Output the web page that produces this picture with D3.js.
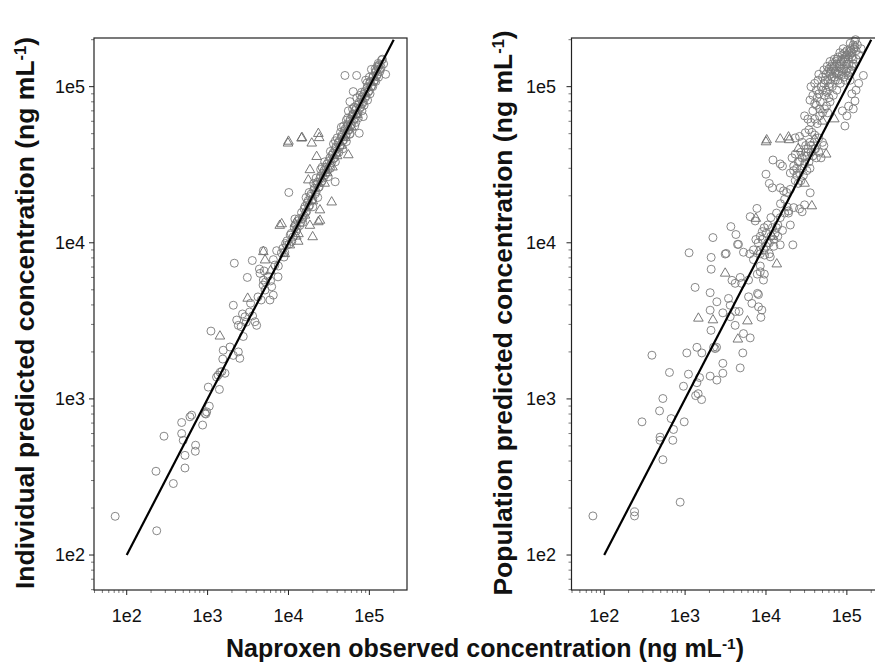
<!DOCTYPE html>
<meta charset="utf-8">
<script src="https://d3js.org/d3.v7.min.js"></script>
<style>
	body{
		margin:0;
		background:#fff;
		font-family:'Liberation Sans', Arial, sans-serif;
	}
</style>
<div id="chart"></div>
<script>

// observed vs predicted (ng/mL)
var indivCircles = [
	[72,177],[235,143],[230,344],[377,287],[525,361],[525,435],[705,462],[710,505],[500,543],[289,577],
	[478,706],[478,600],[635,787],[868,680],[975,826],[950,800],[1050,898],[1020,1190],[1400,1150],[1350,1420],
	[1430,1480],[1500,1500],[1100,2720],[1560,2050],[1540,1800],[1890,2150],[2080,1900],[2400,2000],[2500,1820],[2080,3980],
	[2140,7400],[3100,6000],[3570,7700],[2290,3200],[2400,2960],[2900,3360],[2760,2510],[3850,3120],[4040,2960],[4450,6370],
	[4890,5770],[4850,5360],[5130,4980],[6200,5230],[6490,4620],[5900,4300],[4890,8900],[7140,8900],[9500,9660],[7430,6050],
	[4370,6790],[1290,1380],[1640,1460],[930,807],[605,768],
	[2600,2900],[3000,3100],[3300,3600],[3600,3400],[4200,4500],[4600,4300],[5200,5600],[5600,6100],[6000,5700],[6800,7200],
	[7500,7100],[8200,8600],[8800,8100],[9200,9900],[3400,4100],[2700,3500],[5000,6600],[6500,7800],
	[10500,11200],[11000,10200],[11800,12500],[12500,11900],[13000,13800],[13800,12900],[14500,15600],[15200,14600],[16000,17100],[16800,15900],
	[17500,18600],[18300,17400],[19000,20500],[20000,19000],[21000,22400],[22000,21200],[23000,24500],[24000,22800],[25000,26800],[26000,24900],
	[27500,29000],[28500,27300],[30000,32000],[31000,29500],[32500,35000],[34000,32500],[35500,37500],[37000,35000],[38500,41000],[40000,38000],
	[42000,44500],[44000,42000],[46000,49000],[48000,45500],[50000,53500],[52000,49500],[54000,57500],[56000,53000],[58000,62000],[60000,57000],
	[63000,67000],[66000,62500],[69000,73000],[72000,68000],[75000,79500],[78000,74000],[81000,86000],[84000,80000],[88000,93000],[91000,87000],
	[95000,100000],[99000,94000],[103000,108000],[107000,101000],[112000,117000],[116000,110000],[121000,126000],[126000,120000],[132000,138000],[140000,133000],
	[37800,24600],[10100,21000],[75000,50300],[63200,93000],[49900,118000],[69600,118000],[106000,129000],[129000,141000],[159000,120000],[57500,80200],
	[84000,64300],[62000,66000],[45000,55000],[52000,61000],[70000,85000],[90000,110000],[95000,82000],[110000,100000],[42000,38000],[28000,33000],
	[33000,30000],[36000,43000],[18000,21000],[15000,13500],[12000,14200],[20000,17000],[22000,26000],[26000,30500],[31000,26500],[40000,47000],
	[47000,40000],[54000,63000],[58000,50000],[65000,74000],[73000,63000],[80000,92000],[86000,76000],[100000,115000],[118000,130000],[130000,115000],
	[145000,150000],[150000,140000],[125000,135000],[135000,125000],[55000,70000],[66000,56000],[38000,33000],[48000,56000],
	[8500,9200],[9000,8700],[9600,10300],[10200,9800],[10800,11500],[11400,10900],[12200,13000],[12800,12300],[13500,14300],[14200,13500],
	[14800,14200],[15600,16500],[16300,15600],[17000,18000],[17800,17000],[18600,19800],[19500,18700],[20500,21800],[21500,20600],[22500,23800],
	[23500,22600],[24500,25900],[25500,24400],[26500,28000],[27000,26000],[29000,30500],[29500,28200],[31500,33500],[33000,31500],[34500,36500],
	[36000,34500],[37500,39500],[39000,37200],[41000,43500],[43000,41000],[45000,47500],[47000,45000],[49000,52000],[51000,48500],[53000,56000],
	[55000,52500],[57000,60000],[59000,56500],[61000,64500],[64000,61000],[67000,70500],[70000,66800],[73000,77000],[76000,72500],[79000,83000],
	[82000,78000],[86000,90000],[89000,85000],[93000,97500],[97000,92500],[101000,106000],[105000,100000],[110000,115000],[114000,108000],[118000,123000],
	[123000,117000],[128000,133000],[136000,130000],[142000,148000],[44000,51000],[62000,72000],[77000,88000],[94000,106000],[33000,38500],[25000,29500],
	[57000,49500],[81000,70000],[102000,90000],[120000,108000],[38000,45000],[52000,44500],[68000,59000],[20500,24000],[16500,19500],[23000,19500]
]
var indivTriangles = [
	[10000,44600],[9860,43400],[14500,46700],[14700,47100],[19400,43400],[23400,50000],[24000,47000],[22300,35600],[18400,29300],[17600,25200],
	[54900,36500],[34200,18200],[24500,16200],[23400,13600],[8240,13200],[12000,13300],[18400,12900],[24500,13900],[19900,10900],[13300,11400],
	[10400,9660],[4890,8750],[7800,12900],[13200,10200],[1420,2520],[3130,4400],[5130,7740],
	[30000,28000],[40000,36000],[45000,42000],[60000,55000],[28000,24000],[35000,30500],[16000,15000],[20000,18500],[50000,47000],
	[70000,66000],[12500,11000],[9000,8500],[6000,6600]
]
var popCircles = [
	[72.5,178],[237,189],[237,178],[869,218],[531,408],[490,543],[705,543],[293,713],[483,838],[531,1006],
	[673,748],[975,713],[719,637],[490,569],[389,1905],[641,1477],[955,1205],[1100,1440],[1050,1970],[1400,2140],
	[1610,1970],[1350,1050],[1450,1080],[1600,990],[1510,1370],[1400,1270],[2040,1400],[2250,2140],[2450,2140],[2350,2100],
	[2470,1320],[2930,1460],[2930,1690],[2090,2750],[2040,3700],[2470,4190],[2930,3560],[3610,3980],[4160,2960],[5270,2620],
	[6380,2460],[5170,1970],[4800,1580],[4200,3630],[4650,3630],[3610,3360],[6090,4510],[6700,4090],[8080,3890],[8890,3710],
	[8650,3330],[7850,4740],[1330,5180],[2040,4790],[3440,4400],[3800,5750],[4160,5500],[4800,6000],[5000,5500],[6090,5770],
	[7800,6300],[9550,6300],[8500,6520],[3130,8470],[2100,8060],[2100,6770],[1120,8630],[4570,9770],[5270,8700],[6300,8500],
	[7000,7800],[8500,7100],[9600,8340],[11300,8130],[15000,9700],[21500,9700],[2210,10800],[3220,8550],[3680,12700],[4250,11300],
	[4450,9770],[6380,14700],[7360,13800],[7730,16600],[15100,17800],[18200,17000],[9310,5770],[8080,4660],
	[9000,10500],[10000,11500],[11000,10000],[12000,12500],[13000,11500],[10500,13000],[11500,14500],[14000,13000],[15000,14500],[16000,12000],
	[17000,15500],[9500,9000],[8500,11000],[12500,9500],[13500,15500],[19000,16000],[20000,13000],[11000,8500],
	[12200,33900],[15000,32000],[16000,31000],[10000,27500],[11000,24000],[12000,22500],[15000,22500],[16500,21500],[18000,21000],[20000,22000],
	[22000,29000],[24000,30000],[26000,28000],[23000,25000],[25000,33000],[28000,35000],[30000,32000],[27000,38000],[32000,36000],[35000,30000],
	[35200,20900],[30000,17500],[26000,16500],[28000,15800],[22000,16800],[19000,15500],[17000,19000],
	[23000,47000],[26000,48000],[30600,50700],[34000,53000],[37000,51000],[40000,49000],[45000,47000],[50000,44000],[28000,44000],[31000,42000],
	[41000,40000],[36000,38000],[45000,38000],[48000,35000],[52000,42000],
	[30000,65000],[33000,62000],[36000,59000],[40000,62000],[43000,58000],[38000,70000],[42000,76000],[46000,72000],[50000,68000],[35000,82000],
	[38000,88000],[42000,95000],[45000,90000],[48000,100000],[40000,105000],[36000,100000],[44000,110000],[52000,105000],[55000,95000],[58000,110000],
	[62000,120000],[60000,100000],[65000,115000],[68000,130000],[72000,125000],[75000,140000],[70000,150000],[80000,135000],[85000,145000],[78000,155000],
	[88000,160000],[92000,130000],[95000,150000],[100000,140000],[105000,165000],[110000,175000],[115000,155000],[120000,185000],[125000,195000],[128000,200000],
	[110000,190000],[100000,170000],[90000,175000],[82000,165000],[65000,135000],[58000,125000],[55000,120000],[52000,128000],[62000,145000],[72000,110000],
	[80000,120000],[86000,118000],[98000,125000],[104000,118000],[112000,128000],[120000,140000],[130000,150000],[140000,160000],[150000,175000],[160000,118000],
	[126000,81000],[94600,56000],[115000,90000],[130000,95000],[105000,75000],[100000,65000],[88000,70000],[120000,72000],[140000,105000],[110000,110000],
	[75000,95000],[68000,88000],[62000,80000],[56000,75000],
	[45000,120000],[50000,115000],[54000,110000],[57000,135000],[60000,130000],[63000,125000],[66000,140000],[70000,135000],[73000,145000],[76000,150000],
	[79000,125000],[82000,140000],[85000,130000],[88000,150000],[91000,145000],[94000,165000],[97000,155000],[100000,160000],[103000,150000],[106000,140000],
	[109000,160000],[112000,170000],[116000,165000],[119000,150000],[122000,175000],[126000,180000],[130000,170000],[135000,185000],[62000,105000],[66000,100000],
	[70000,115000],[74000,120000],[78000,110000],[83000,105000],[87000,125000],[92000,115000],[96000,110000],[101000,130000],[108000,125000],[115000,135000],
	[53000,88000],[57000,92000],[60000,85000],[47000,80000],[50000,95000],[43000,85000],[40000,78000],[46000,65000],[53000,72000],[58000,68000],
	[20000,28000],[22000,31000],[24000,27000],[26000,33000],[28000,30000],[30000,36000],[32000,29000],[34000,33000],[36000,42000],[38000,36000],
	[40000,40000],[42000,35000],[25000,24000],[27000,25000],[29000,27000],[31000,38000],[33000,40000],[35000,44000],[21000,35000],[23000,37000],
	[7000,9000],[8000,10000],[9000,11800],[9500,12500],[10500,10000],[11500,11000],[12500,10500],[13500,12500],[8500,8500],[7500,10500],
	[14000,11000],[10000,9500]
]
var popTriangles = [
	[10000,44200],[10200,45500],[15000,46100],[19400,45600],[19000,47500],[55500,36900],[36900,17200],[7500,14300],[13600,7300],[1460,3280],
	[2210,3200],[4490,2410],[5900,3150],[3130,6370],[25000,40000],[30000,24000],[12000,11000],[8000,8800],[50000,60000],[70000,62000],
	[40000,46000]
]
var identityLine = [100, 200000]
var tickValues = [1e2, 1e3, 1e4, 1e5]
var tickLabels = ["1e2", "1e3", "1e4", "1e5"]
var panelTitles = ["Individual predicted concentration (ng mL", "Population predicted concentration (ng mL"]
var xTitle = "Naproxen observed concentration (ng mL"

var width = 875
var height = 667
var plotTop = 38, plotBottom = 590
var panels = [
	{left:94, right:407, circles:indivCircles, triangles:indivTriangles, title:panelTitles[0], titleX:25, labelX:86},
	{left:571.5, right:884.5, circles:popCircles, triangles:popTriangles, title:panelTitles[1], titleX:503, labelX:557}
]

var svg = d3.select("#chart").append("svg")
	.attr("width", width)
	.attr("height", height)

var yScale = d3.scaleLog().domain([59.7, 205000]).range([plotBottom, plotTop])

// minor ticks 2..9 per decade
var minorTicks = []
for(var e = 1; e <= 5; e++){
	for(var m = 2; m <= 9; m++){
		minorTicks.push(m * Math.pow(10, e))
	}
}

var tri = d3.symbol().type(d3.symbolTriangle).size(40)

function addTitle(sel, main, size){
	sel.style("font-size", size + "px")
	sel.append("tspan").text(main)
	sel.append("tspan").text("-1").attr("dy", "-8px").style("font-size", (size * 0.62) + "px")
	sel.append("tspan").text(")").attr("dy", "8px")
}

panels.forEach(function(p){
	var xScale = d3.scaleLog().domain([39.4, 292000]).range([p.left, p.right])
	var g = svg.append("g")

	var inX = minorTicks.filter(function(v){ return xScale(v) > p.left && xScale(v) < p.right })
	var inY = minorTicks.filter(function(v){ return yScale(v) > plotTop && yScale(v) < plotBottom })

	// minor ticks
	g.selectAll(".mx").data(inX).join("line")
		.attr("x1", function(d){ return xScale(d) }).attr("x2", function(d){ return xScale(d) })
		.attr("y1", plotBottom).attr("y2", plotBottom + 3)
		.attr("stroke", "#555").attr("stroke-width", 0.8)
	g.selectAll(".my").data(inY).join("line")
		.attr("y1", function(d){ return yScale(d) }).attr("y2", function(d){ return yScale(d) })
		.attr("x1", p.left).attr("x2", p.left - 3)
		.attr("stroke", "#555").attr("stroke-width", 0.8)

	// major ticks + labels
	tickValues.forEach(function(v, i){
		g.append("line")
			.attr("x1", xScale(v)).attr("x2", xScale(v))
			.attr("y1", plotBottom).attr("y2", plotBottom + 5)
			.attr("stroke", "#222").attr("stroke-width", 1)
		g.append("text").text(tickLabels[i])
			.attr("x", xScale(v)).attr("y", plotBottom + 32)
			.attr("text-anchor", "middle")
			.style("font-size", "18px").attr("fill", "#111")
		g.append("line")
			.attr("y1", yScale(v)).attr("y2", yScale(v))
			.attr("x1", p.left).attr("x2", p.left - 5)
			.attr("stroke", "#222").attr("stroke-width", 1)
		g.append("text").text(tickLabels[i])
			.attr("x", p.labelX - 1).attr("y", yScale(v))
			.attr("dy", "0.35em")
			.attr("text-anchor", "end")
			.style("font-size", "18px").attr("fill", "#111")
	})

	// points
	g.selectAll(".c").data(p.circles).join("circle")
		.attr("cx", function(d){ return xScale(d[0]) })
		.attr("cy", function(d){ return yScale(d[1]) })
		.attr("r", 4)
		.attr("fill", "none")
		.attr("stroke", "#7a7a7a")
		.attr("stroke-width", 0.9)
	g.selectAll(".t").data(p.triangles).join("path")
		.attr("d", tri)
		.attr("transform", function(d){ return "translate(" + xScale(d[0]) + "," + yScale(d[1]) + ")" })
		.attr("fill", "none")
		.attr("stroke", "#6a6a6a")
		.attr("stroke-width", 0.9)

	// line of identity
	g.append("line")
		.attr("x1", xScale(identityLine[0])).attr("y1", yScale(identityLine[0]))
		.attr("x2", xScale(identityLine[1])).attr("y2", yScale(identityLine[1]))
		.attr("stroke", "#000").attr("stroke-width", 2.2)

	// frame
	g.append("rect")
		.attr("x", p.left).attr("y", plotTop)
		.attr("width", p.right - p.left).attr("height", plotBottom - plotTop)
		.attr("fill", "none").attr("stroke", "#222").attr("stroke-width", 1.2)

	// y title
	var yt = svg.append("text")
		.attr("transform", "translate(" + p.titleX + "," + ((plotTop + plotBottom) / 2 - 1) + ") rotate(-90)")
		.attr("text-anchor", "middle")
		.attr("dy", "0.35em")
		.style("font-weight", "bold").attr("fill", "#111")
	addTitle(yt, p.title, 26.5)
})

var xt = svg.append("text")
	.attr("x", 485).attr("y", 657)
	.attr("text-anchor", "middle")
	.style("font-weight", "bold").attr("fill", "#111")
addTitle(xt, xTitle, 25)

</script>
